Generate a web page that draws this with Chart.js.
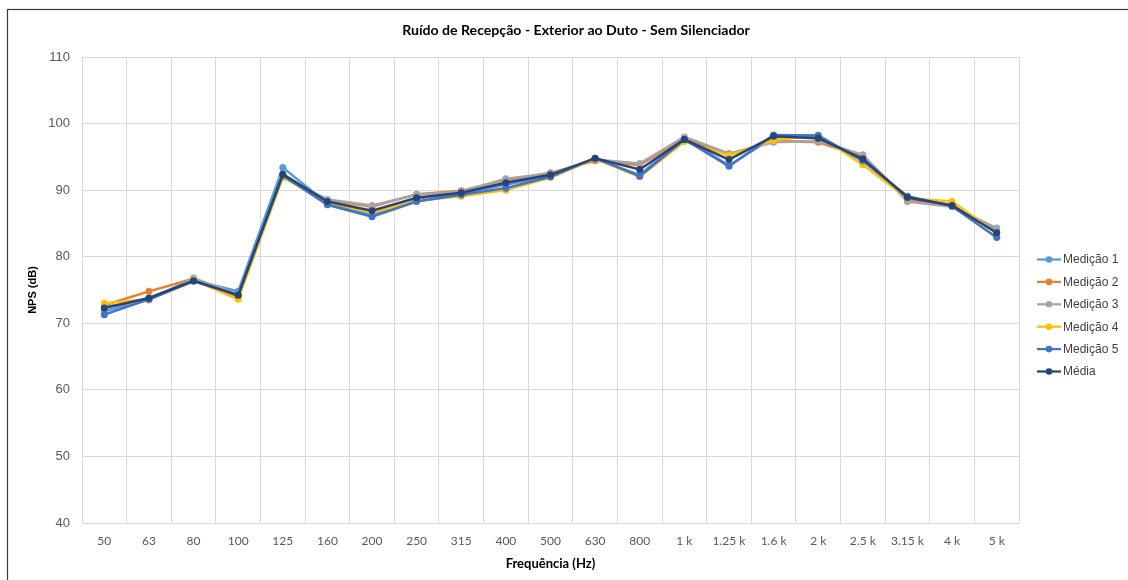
<!DOCTYPE html>
<html>
<head>
<meta charset="utf-8">
<script src="https://cdn.jsdelivr.net/npm/chart.js@4/dist/chart.umd.min.js"></script>
<style>
  html, body { margin: 0; padding: 0; background: #ffffff; }
  #wrap { width: 1128px; height: 580px; position: relative; }
</style>
</head>
<body>
<div id="wrap"><canvas id="c" width="1128" height="580"></canvas></div>
<script>
const chartTitle = 'Ruído de Recepção - Exterior ao Duto - Sem Silenciador';
const xTitle = 'Frequência (Hz)';
const yTitle = 'NPS (dB)';
const categories = ['50','63','80','100','125','160','200','250','315','400','500','630','800','1 k','1.25 k','1.6 k','2 k','2.5 k','3.15 k','4 k','5 k'];
const yTicks = [40, 50, 60, 70, 80, 90, 100, 110];

const seriesNames = ['Medição 1','Medição 2','Medição 3','Medição 4','Medição 5','Média'];
const medicao1 = [71.8, 73.6, 76.4, 74.8, 93.4, 88.0, 86.3, 88.5, 89.4, 90.8, 92.1, 94.7, 92.3, 97.9, 93.7, 97.9, 98.0, 94.5, 89.0, 87.6, 84.0];
const medicao2 = [72.7, 74.8, 76.7, 74.0, 92.1, 88.5, 87.5, 89.4, 89.9, 91.5, 92.6, 94.4, 93.8, 97.7, 95.3, 97.4, 97.2, 95.1, 88.6, 87.8, 83.6];
const medicao3 = [72.5, 73.5, 76.8, 74.3, 92.0, 88.6, 87.7, 89.3, 89.8, 91.7, 92.5, 94.6, 94.0, 98.0, 95.5, 97.2, 97.4, 95.3, 88.3, 87.5, 84.3];
const medicao4 = [73.0, 73.6, 76.5, 73.6, 91.9, 88.2, 86.6, 88.4, 89.1, 90.0, 91.9, 94.7, 92.0, 97.3, 95.2, 97.5, 98.3, 93.8, 88.8, 88.3, 83.5];
const medicao5 = [71.3, 73.6, 76.3, 74.3, 92.2, 87.8, 86.0, 88.3, 89.3, 90.3, 92.0, 94.8, 92.1, 97.6, 93.6, 98.3, 98.2, 94.4, 89.1, 87.6, 82.9];
const media    = [72.3, 73.8, 76.4, 74.2, 92.4, 88.3, 86.9, 88.85, 89.6, 91.1, 92.3, 94.8, 93.1, 97.6, 94.6, 98.1, 97.8, 94.7, 88.9, 87.7, 83.6];

const seriesValues = [medicao1, medicao2, medicao3, medicao4, medicao5, media];
const seriesColors = ['#5B9BD5', '#ED7D31', '#A5A5A5', '#FFC000', '#4472C4', '#264478'];

const datasets = seriesValues.map((vals, i) => ({
  label: seriesNames[i],
  data: vals,
  borderColor: seriesColors[i],
  backgroundColor: seriesColors[i],
  borderWidth: 2.5,
  pointRadius: 3.5,
  pointHoverRadius: 3.5,
  pointBorderWidth: 0,
  pointBackgroundColor: seriesColors[i],
  tension: 0,
  order: seriesValues.length - 1 - i
}));

const decorPlugin = {
  id: 'decor',
  beforeDraw(chart) {
    const ctx = chart.ctx;
    ctx.save();
    ctx.fillStyle = '#ffffff';
    ctx.fillRect(0, 0, chart.width, chart.height);
    ctx.strokeStyle = '#3a3a3a';
    ctx.lineWidth = 1.2;
    ctx.strokeRect(7.5, 9.5, 1200, 700);
    ctx.restore();
  },
  afterDraw(chart) {
    const ctx = chart.ctx;
    ctx.save();
    // title
    let size = 14;
    ctx.font = 'bold ' + size + 'px Lato';
    const w = ctx.measureText(chartTitle).width;
    size = size * 348 / w;
    ctx.font = 'bold ' + size.toFixed(2) + 'px Lato';
    ctx.fillStyle = '#000000';
    ctx.textAlign = 'center';
    ctx.textBaseline = 'middle';
    ctx.fillText(chartTitle, 576, 30);
    // legend
    ctx.font = '12px "Liberation Sans", Arial, sans-serif';
    ctx.textAlign = 'left';
    ctx.textBaseline = 'middle';
    chart.data.datasets.forEach((ds, i) => {
      const y = 259.5 + i * 22.4;
      ctx.strokeStyle = ds.borderColor;
      ctx.lineWidth = 2.25;
      ctx.beginPath();
      ctx.moveTo(1037, y);
      ctx.lineTo(1061, y);
      ctx.stroke();
      ctx.fillStyle = ds.borderColor;
      ctx.beginPath();
      ctx.arc(1049, y, 3.3, 0, Math.PI * 2);
      ctx.fill();
      ctx.fillStyle = '#404040';
      ctx.fillText(ds.label, 1063, y + 0.5);
    });
    ctx.restore();
  }
};

new Chart(document.getElementById('c'), {
  type: 'line',
  data: { labels: categories, datasets: datasets },
  options: {
    responsive: false,
    animation: false,
    devicePixelRatio: 1,
    layout: { padding: { left: 0, top: 57, right: 109, bottom: 0 } },
    plugins: {
      legend: { display: false },
      title: { display: false },
      tooltip: { enabled: false }
    },
    scales: {
      x: {
        type: 'category',
        offset: true,
        grid: { offset: true, color: '#D9D9D9', lineWidth: 1, drawTicks: false },
        border: { color: '#D9D9D9', width: 1 },
        ticks: { color: '#595959', font: { family: 'Lato', size: 12 }, padding: 11, maxRotation: 0, autoSkip: false },
        title: { display: true, text: xTitle, color: '#000000', font: { family: 'Lato', size: 13, weight: 'bold' }, padding: { top: 0, bottom: 8 } },
        afterFit(scale) { scale.height = 57; }
      },
      y: {
        min: 40,
        max: 110,
        afterBuildTicks(scale) { scale.ticks = yTicks.map(v => ({ value: v })); },
        grid: { color: '#D9D9D9', lineWidth: 1, drawTicks: false },
        border: { color: '#D9D9D9', width: 1 },
        ticks: { color: '#595959', font: { family: '"Liberation Sans", Arial, sans-serif', size: 13 }, padding: 12 },
        title: { display: true, text: yTitle, color: '#000000', font: { family: '"Liberation Sans", Arial, sans-serif', size: 11, weight: 'bold' }, padding: { top: 26, bottom: 0 } },
        afterFit(scale) { scale.width = 82; }
      }
    }
  },
  plugins: [decorPlugin]
});
</script>
</body>
</html>
